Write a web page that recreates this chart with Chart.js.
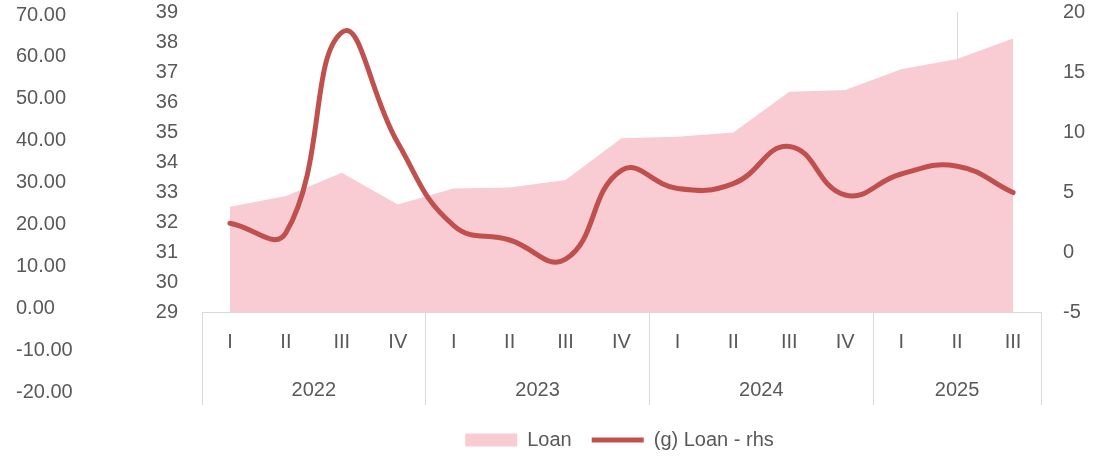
<!DOCTYPE html>
<html>
<head>
<meta charset="utf-8">
<script src="https://cdn.jsdelivr.net/npm/chart.js@4"></script>
<style>
  body { margin: 0; background: #fff; }
  #wrap { position: relative; width: 1109px; height: 460px; }
  #main { position: absolute; left: 0; top: 0; width: 1109px; height: 460px; }
  #outer { position: absolute; left: 0; top: 0; width: 130px; height: 460px; }
</style>
</head>
<body>
<div id="wrap">
  <div id="main"><canvas id="myChart"></canvas></div>
  <div id="outer"><canvas id="outerAxis"></canvas></div>
</div>
<script>
const quarters = ['I', 'II', 'III', 'IV', 'I', 'II', 'III', 'IV', 'I', 'II', 'III', 'IV', 'I', 'II', 'III'];
const years = ['2022', '2023', '2024', '2025'];
const quartersPerYear = [4, 4, 4, 3];
const loan = [32.51, 32.87, 33.64, 32.58, 33.12, 33.15, 33.4, 34.79, 34.84, 34.98, 36.34, 36.4, 37.09, 37.43, 38.12];
const loanGrowth = [2.4, 1.6, 18.3, 9.1, 2.2, 1.0, -0.6, 6.8, 5.3, 5.7, 8.8, 4.75, 6.5, 7.15, 4.95];

const grey = '#595959';
const lineGrey = '#d9d9d9';
const pink = '#f9ccd4';
const red = '#c0504d';
const font = { family: 'Liberation Sans', size: 20 };

// year label positions (group centres), in category units
const yearCentres = [];
let start = 0;
for (let i = 0; i < years.length; i++) {
  yearCentres.push(start + (quartersPerYear[i] - 1) / 2);
  start += quartersPerYear[i];
}
const markedCentre = yearCentres[yearCentres.length - 1];

const data = {
  labels: quarters,
  datasets: [{
    label: 'Loan',
    data: loan,
    yAxisID: 'y',
    fill: 'start',
    backgroundColor: pink,
    borderColor: 'rgba(0,0,0,0)',
    borderWidth: 0,
    pointRadius: 0,
    tension: 0,
    order: 1
  }, {
    label: '(g) Loan - rhs',
    data: loanGrowth,
    yAxisID: 'y1',
    fill: false,
    borderColor: red,
    backgroundColor: red,
    borderWidth: 5,
    borderCapStyle: 'round',
    pointRadius: 0,
    tension: 0.45,
    order: 0
  }]
};

const config = {
  type: 'line',
  data: data,
  options: {
    responsive: true,
    maintainAspectRatio: false,
    animation: false,
    layout: { padding: { left: 130, right: 0, top: 0, bottom: 0 } },
    plugins: {
      tooltip: { enabled: false },
      legend: {
        position: 'bottom',
        labels: {
          color: grey,
          font: font,
          usePointStyle: true,
          pointStyleWidth: 52,
          boxHeight: 13,
          padding: 20,
          sort: (a, b) => a.datasetIndex - b.datasetIndex,
          generateLabels(chart) {
            const items = Chart.defaults.plugins.legend.labels.generateLabels(chart);
            items.forEach(item => {
              if (item.datasetIndex === 0) {
                item.pointStyle = 'rect';
                item.fillStyle = pink;
                item.strokeStyle = pink;
                item.lineWidth = 0;
              } else {
                item.pointStyle = 'line';
                item.strokeStyle = red;
                item.lineWidth = 5;
              }
            });
            return items;
          }
        }
      }
    },
    scales: {
      x: {
        offset: true,
        border: { display: true, color: lineGrey, width: 1 },
        grid: {
          offset: true,
          drawOnChartArea: false,
          tickLength: 93,
          tickColor: (c) => (c.index === undefined || c.index % 4 === 0) ? lineGrey : 'rgba(0,0,0,0)'
        },
        ticks: { color: grey, font: font, padding: -75, autoSkip: false, maxRotation: 0 },
        afterFit(scale) { scale.height = 42; scale.paddingLeft = 0; scale.paddingRight = 0; }
      },
      x2: {
        type: 'linear',
        position: 'bottom',
        min: -0.5,
        max: quarters.length - 0.5,
        offset: false,
        border: { display: false },
        afterBuildTicks(scale) {
          scale.ticks = yearCentres.map(v => ({ value: v }));
        },
        grid: {
          drawOnChartArea: true,
          drawTicks: false,
          color: (c) => (c.tick && c.tick.value === markedCentre) ? lineGrey : 'rgba(0,0,0,0)'
        },
        ticks: {
          color: grey,
          font: font,
          padding: 24,
          autoSkip: false,
          maxRotation: 0,
          callback: (v) => {
            const i = yearCentres.indexOf(v);
            return i >= 0 ? years[i] : '';
          }
        },
        afterFit(scale) { scale.height = 56; scale.paddingLeft = 0; scale.paddingRight = 0; }
      },
      y: {
        position: 'left',
        min: 29,
        max: 39,
        grid: { display: false },
        border: { display: false },
        ticks: { stepSize: 1, color: grey, font: font, padding: 16 },
        afterFit(scale) { scale.width = 72; scale.paddingTop = 12; scale.paddingBottom = 12; }
      },
      y1: {
        position: 'right',
        min: -5,
        max: 20,
        grid: { display: false },
        border: { display: false },
        ticks: { stepSize: 5, color: grey, font: font, padding: 14 },
        afterFit(scale) { scale.width = 68; scale.paddingTop = 12; scale.paddingBottom = 12; }
      }
    }
  }
};
new Chart(document.getElementById('myChart'), config);

// extra left-hand value axis (-20 to 70), drawn on its own
new Chart(document.getElementById('outerAxis'), {
  type: 'line',
  data: { labels: [''], datasets: [] },
  options: {
    responsive: true,
    maintainAspectRatio: false,
    animation: false,
    layout: { padding: { left: 16, right: 0, top: 12, bottom: 68 } },
    plugins: { legend: { display: false }, tooltip: { enabled: false } },
    scales: {
      x: { display: false },
      y: {
        min: -20,
        max: 70,
        grid: { display: false },
        border: { display: false },
        ticks: {
          stepSize: 10,
          color: grey,
          font: font,
          crossAlign: 'far',
          callback: (v) => v.toFixed(2)
        }
      }
    }
  }
});
</script>
</body>
</html>
